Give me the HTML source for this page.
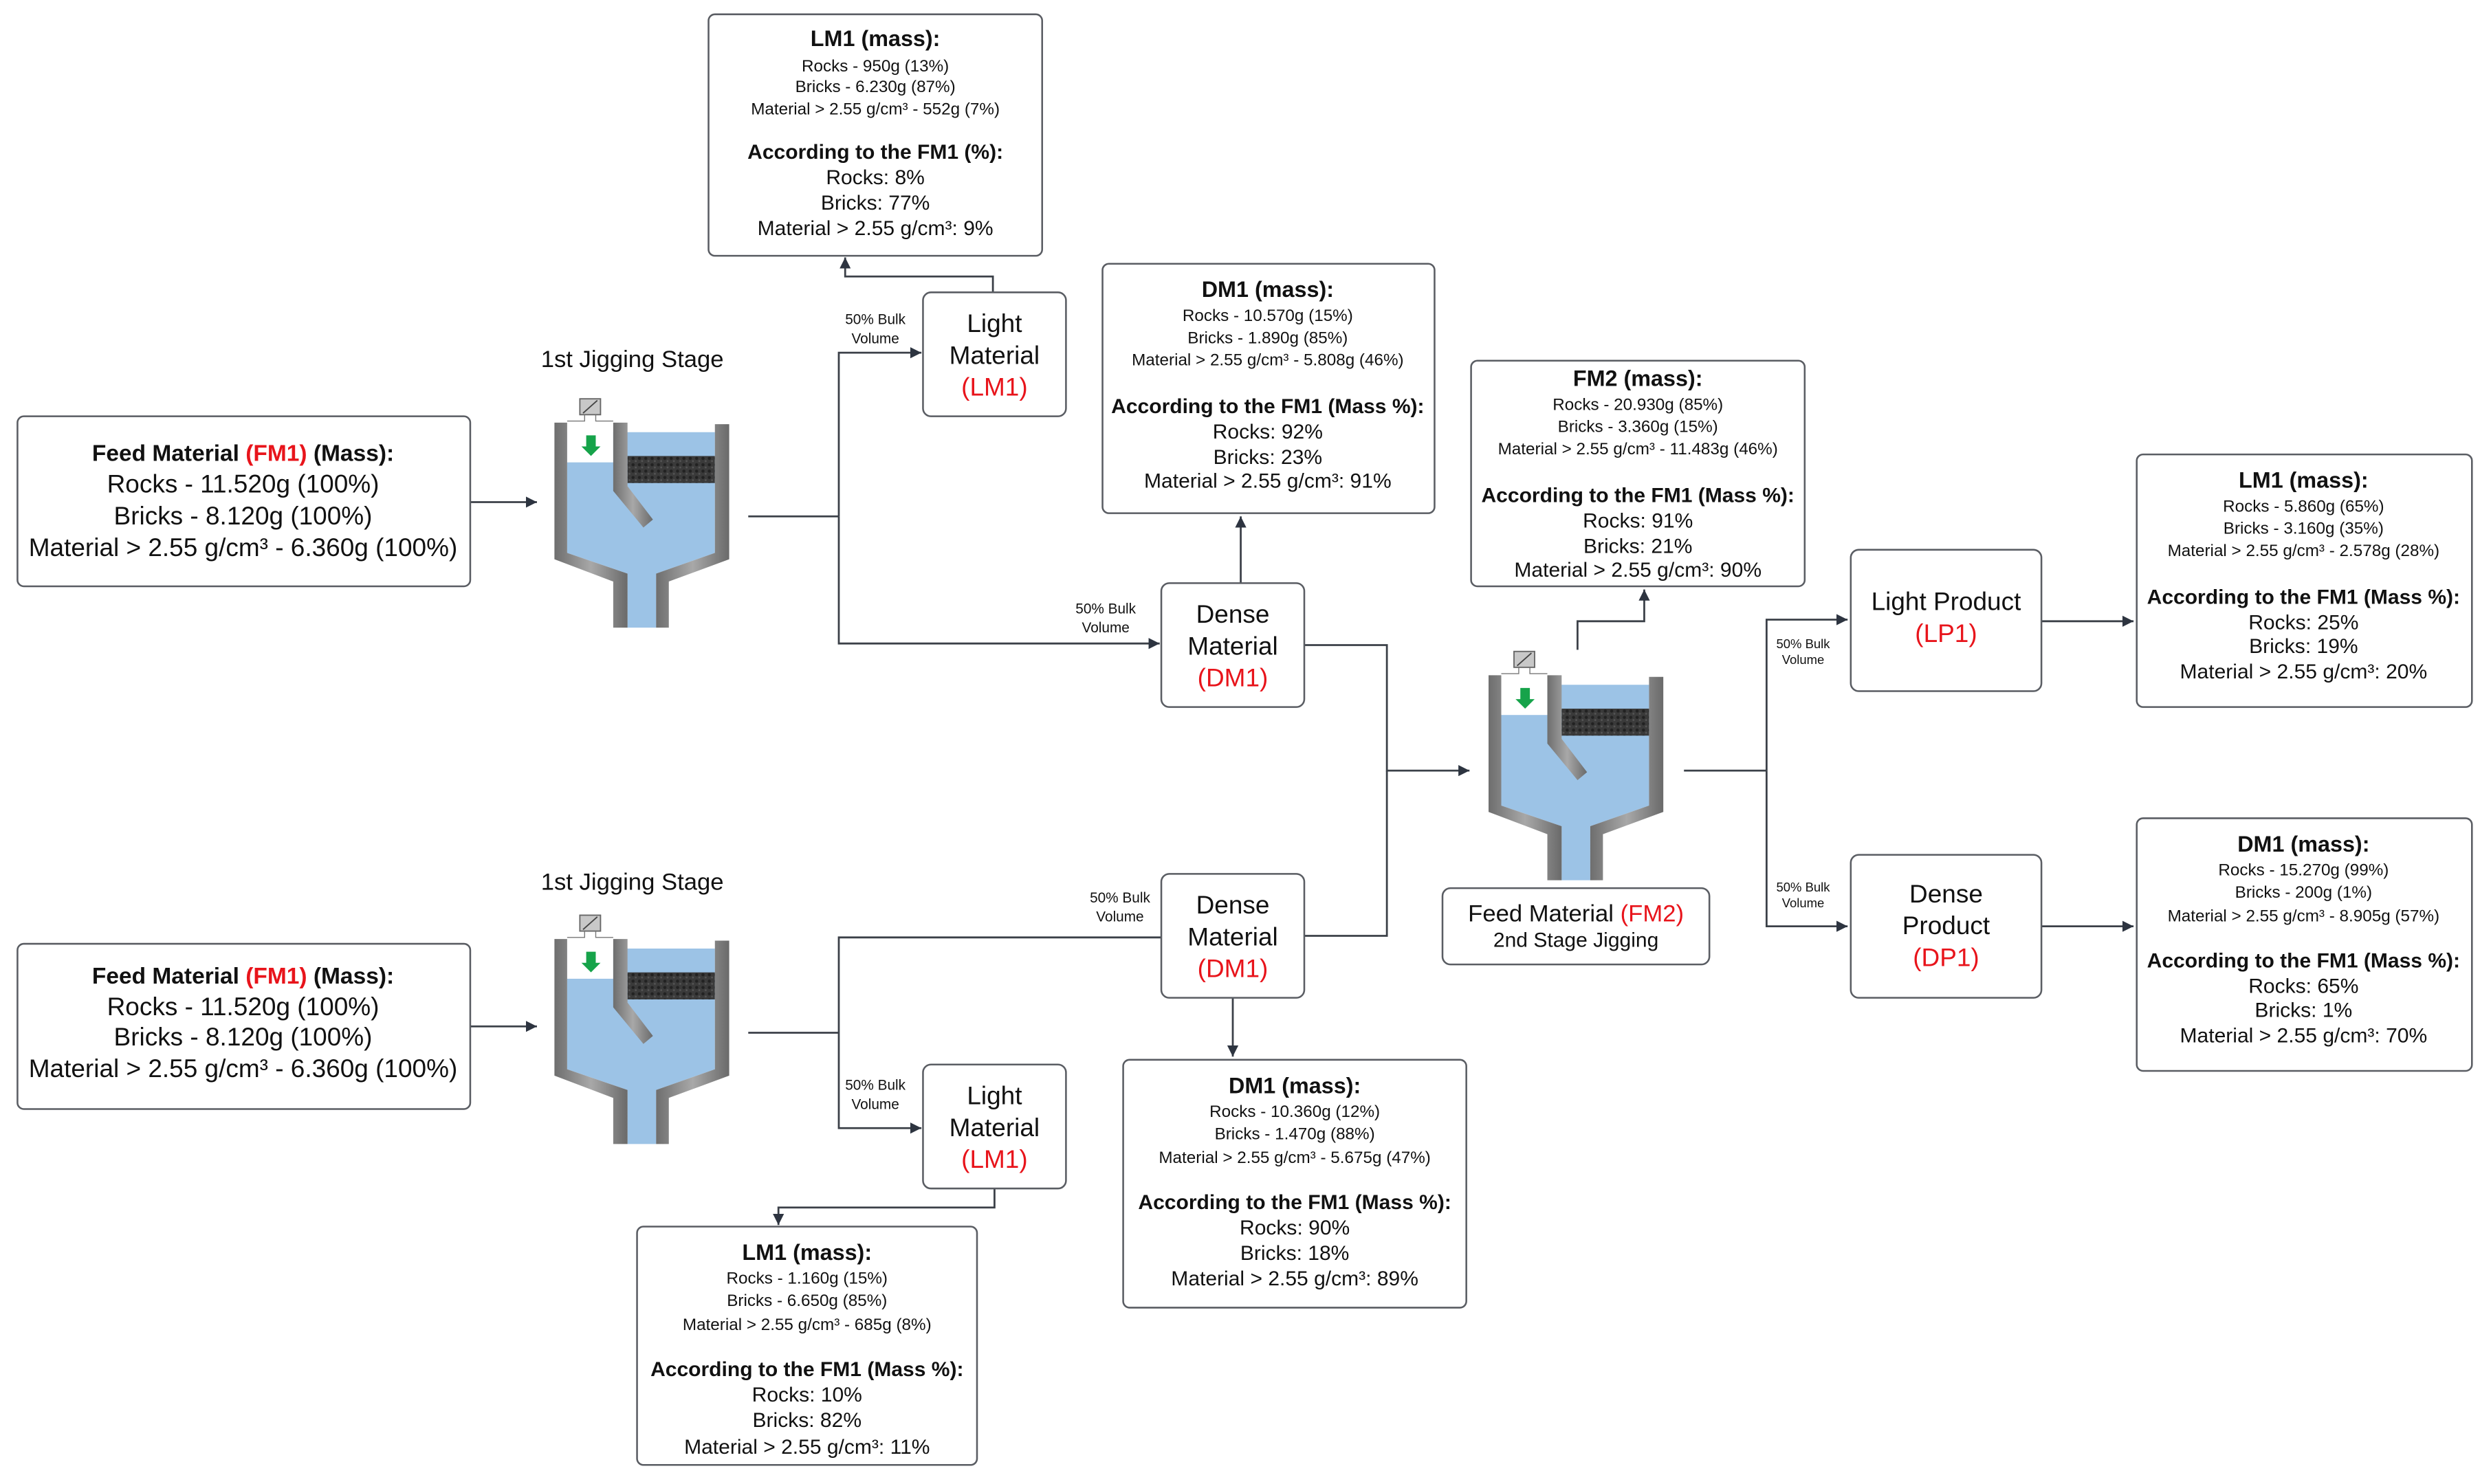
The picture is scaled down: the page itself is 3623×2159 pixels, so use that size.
<!DOCTYPE html>
<html><head><meta charset="utf-8">
<style>
html,body{margin:0;padding:0;background:#fff;}
svg{display:block;}
text{font-family:"Liberation Sans",Arial,sans-serif;fill:#111;}
.b{font-weight:bold;}
.r{fill:#e8141b;}
.box{fill:#fff;stroke:#5a5d63;stroke-width:1.1;}
.ln{fill:none;stroke:#3b4048;stroke-width:1.2;}
</style></head>
<body>
<svg width="3623" height="2159" viewBox="0 0 1568 934" preserveAspectRatio="none" xmlns="http://www.w3.org/2000/svg">
<defs>
<marker id="ar" viewBox="0 0 10 10" refX="10" refY="5" markerWidth="7" markerHeight="7" markerUnits="userSpaceOnUse" orient="auto">
<path d="M0,0 L10,5 L0,10 z" fill="#2d3440"/>
</marker>
<linearGradient id="wall" x1="0" x2="1" y1="0" y2="0">
<stop offset="0" stop-color="#6e6e6e"/><stop offset="0.5" stop-color="#a8a8a8"/><stop offset="1" stop-color="#6a6a6a"/>
</linearGradient>
<pattern id="grav" width="4" height="4" patternUnits="userSpaceOnUse">
<rect width="4" height="4" fill="#3a3a3a"/><circle cx="1.5" cy="1.5" r="1" fill="#222"/><circle cx="3.2" cy="3.2" r="0.6" fill="#555"/>
</pattern>
<g id="jig">
<polygon points="8,21 101,21 101,97 64,110 64,144 46,144 46,110 8,97" fill="#9cc3e6"/>
<rect x="8" y="15" width="29" height="25" fill="#fff"/>
<rect x="46" y="36" width="55" height="17" fill="url(#grav)"/>
<polygon points="0,15 8,15 8,97 46,110 46,144 37,144 37,115 0,101" fill="url(#wall)"/>
<polygon points="101,16 110,16 110,101 72,115 72,144 64,144 64,110 101,97" fill="url(#wall)"/>
<polygon points="37,15 46,15 46,55 62,76 56,81 37,58" fill="url(#wall)"/>
<rect x="16" y="0" width="13" height="10" fill="#c8c8c8" stroke="#666" stroke-width="0.8"/>
<line x1="18" y1="9" x2="27" y2="1" stroke="#444" stroke-width="0.8"/>
<polyline points="19,10 19,14 8,14" fill="none" stroke="#777" stroke-width="0.6"/>
<polyline points="26,10 26,14 37,14" fill="none" stroke="#777" stroke-width="0.6"/>
<polygon points="20,23 26,23 26,30 29,30 23,36 17,30 20,30" fill="#16a34a"/>
</g>
</defs>

<!-- ===== Jigs ===== -->
<use href="#jig" x="349" y="251"/>
<use href="#jig" x="349" y="576"/>
<use href="#jig" x="937" y="410"/>
<text x="398" y="231" font-size="15" text-anchor="middle">1st Jigging Stage</text>
<text x="398" y="560" font-size="15" text-anchor="middle">1st Jigging Stage</text>

<!-- ===== Connectors ===== -->
<line class="ln" x1="296" y1="316" x2="338" y2="316" marker-end="url(#ar)"/>
<line class="ln" x1="296" y1="646" x2="338" y2="646" marker-end="url(#ar)"/>
<polyline class="ln" points="471,325 528,325"/>
<polyline class="ln" points="528,325 528,222 580,222" marker-end="url(#ar)"/>
<polyline class="ln" points="528,325 528,405 730,405" marker-end="url(#ar)"/>
<polyline class="ln" points="625,184 625,174 532,174 532,162" marker-end="url(#ar)"/>
<polyline class="ln" points="781,367 781,325" marker-end="url(#ar)"/>
<polyline class="ln" points="821,406 873,406 873,485 925,485" marker-end="url(#ar)"/>
<polyline class="ln" points="821,589 873,589 873,485"/>
<polyline class="ln" points="993,409 993,391 1035,391 1035,371" marker-end="url(#ar)"/>
<polyline class="ln" points="1060,485 1112,485"/>
<polyline class="ln" points="1112,485 1112,390 1163,390" marker-end="url(#ar)"/>
<polyline class="ln" points="1112,485 1112,583 1163,583" marker-end="url(#ar)"/>
<line class="ln" x1="1285" y1="391" x2="1343" y2="391" marker-end="url(#ar)"/>
<line class="ln" x1="1285" y1="583" x2="1343" y2="583" marker-end="url(#ar)"/>
<polyline class="ln" points="471,650 528,650"/>
<polyline class="ln" points="528,650 528,590 731,590"/>
<polyline class="ln" points="528,650 528,710 580,710" marker-end="url(#ar)"/>
<polyline class="ln" points="776,628 776,665" marker-end="url(#ar)"/>
<polyline class="ln" points="626,748 626,760 490,760 490,771" marker-end="url(#ar)"/>

<!-- 50% labels -->
<g font-size="9" text-anchor="middle">
<text x="551" y="204">50% Bulk</text><text x="551" y="216">Volume</text>
<text x="696" y="386">50% Bulk</text><text x="696" y="398">Volume</text>
<text x="705" y="568">50% Bulk</text><text x="705" y="580">Volume</text>
<text x="551" y="686">50% Bulk</text><text x="551" y="698">Volume</text>
<text x="1135" y="408" font-size="8">50% Bulk</text><text x="1135" y="418" font-size="8">Volume</text>
<text x="1135" y="561" font-size="8">50% Bulk</text><text x="1135" y="571" font-size="8">Volume</text>
</g>

<!-- ===== FM1 boxes ===== -->
<rect class="box" x="11" y="262" width="285" height="107" rx="4"/>
<g text-anchor="middle">
<text x="153" y="290" font-size="14.5" class="b">Feed Material <tspan class="r">(FM1)</tspan> (Mass):</text>
<text x="153" y="310" font-size="16">Rocks - 11.520g (100%)</text>
<text x="153" y="330" font-size="16">Bricks - 8.120g (100%)</text>
<text x="153" y="350" font-size="16">Material &gt; 2.55 g/cm³ - 6.360g (100%)</text>
</g>
<rect class="box" x="11" y="594" width="285" height="104" rx="4"/>
<g text-anchor="middle">
<text x="153" y="619" font-size="14.5" class="b">Feed Material <tspan class="r">(FM1)</tspan> (Mass):</text>
<text x="153" y="639" font-size="16">Rocks - 11.520g (100%)</text>
<text x="153" y="658" font-size="16">Bricks - 8.120g (100%)</text>
<text x="153" y="678" font-size="16">Material &gt; 2.55 g/cm³ - 6.360g (100%)</text>
</g>

<!-- ===== Small process nodes ===== -->
<g text-anchor="middle" font-size="16">
<rect class="box" x="581" y="184" width="90" height="78" rx="5"/>
<text x="626" y="209">Light</text><text x="626" y="229">Material</text><text x="626" y="249" class="r">(LM1)</text>
<rect class="box" x="731" y="367" width="90" height="78" rx="5"/>
<text x="776" y="392">Dense</text><text x="776" y="412">Material</text><text x="776" y="432" class="r">(DM1)</text>
<rect class="box" x="731" y="550" width="90" height="78" rx="5"/>
<text x="776" y="575">Dense</text><text x="776" y="595">Material</text><text x="776" y="615" class="r">(DM1)</text>
<rect class="box" x="581" y="670" width="90" height="78" rx="5"/>
<text x="626" y="695">Light</text><text x="626" y="715">Material</text><text x="626" y="735" class="r">(LM1)</text>
<rect class="box" x="1165" y="346" width="120" height="89" rx="5"/>
<text x="1225" y="384">Light Product</text><text x="1225" y="404" class="r">(LP1)</text>
<rect class="box" x="1165" y="538" width="120" height="90" rx="5"/>
<text x="1225" y="568">Dense</text><text x="1225" y="588">Product</text><text x="1225" y="608" class="r">(DP1)</text>
<rect class="box" x="908" y="559" width="168" height="48" rx="5"/>
<text x="992" y="580" font-size="15">Feed Material <tspan class="r">(FM2)</tspan></text>
<text x="992" y="596" font-size="13">2nd Stage Jigging</text>
</g>

<!-- ===== Data boxes ===== -->
<g text-anchor="middle">
<!-- LM1 top -->
<rect class="box" x="446" y="9" width="210" height="152" rx="4"/>
<text x="551" y="29" font-size="14" class="b">LM1 (mass):</text>
<text x="551" y="45" font-size="10.5">Rocks - 950g (13%)</text>
<text x="551" y="58" font-size="10.5">Bricks - 6.230g (87%)</text>
<text x="551" y="72" font-size="10.5">Material &gt; 2.55 g/cm³ - 552g (7%)</text>
<text x="551" y="100" font-size="13" class="b">According to the FM1 (%):</text>
<text x="551" y="116" font-size="13">Rocks: 8%</text>
<text x="551" y="132" font-size="13">Bricks: 77%</text>
<text x="551" y="148" font-size="13">Material &gt; 2.55 g/cm³: 9%</text>

<!-- DM1 top -->
<rect class="box" x="694" y="166" width="209" height="157" rx="4"/>
<text x="798" y="187" font-size="14" class="b">DM1 (mass):</text>
<text x="798" y="202" font-size="10.5">Rocks - 10.570g (15%)</text>
<text x="798" y="216" font-size="10.5">Bricks - 1.890g (85%)</text>
<text x="798" y="230" font-size="10.5">Material &gt; 2.55 g/cm³ - 5.808g (46%)</text>
<text x="798" y="260" font-size="13" class="b">According to the FM1 (Mass %):</text>
<text x="798" y="276" font-size="13">Rocks: 92%</text>
<text x="798" y="292" font-size="13">Bricks: 23%</text>
<text x="798" y="307" font-size="13">Material &gt; 2.55 g/cm³: 91%</text>

<!-- FM2 -->
<rect class="box" x="926" y="227" width="210" height="142" rx="4"/>
<text x="1031" y="243" font-size="14" class="b">FM2 (mass):</text>
<text x="1031" y="258" font-size="10.5">Rocks - 20.930g (85%)</text>
<text x="1031" y="272" font-size="10.5">Bricks - 3.360g (15%)</text>
<text x="1031" y="286" font-size="10.5">Material &gt; 2.55 g/cm³ - 11.483g (46%)</text>
<text x="1031" y="316" font-size="13" class="b">According to the FM1 (Mass %):</text>
<text x="1031" y="332" font-size="13">Rocks: 91%</text>
<text x="1031" y="348" font-size="13">Bricks: 21%</text>
<text x="1031" y="363" font-size="13">Material &gt; 2.55 g/cm³: 90%</text>

<!-- LM1 right -->
<rect class="box" x="1345" y="286" width="211" height="159" rx="4"/>
<text x="1450" y="307" font-size="14" class="b">LM1 (mass):</text>
<text x="1450" y="322" font-size="10.5">Rocks - 5.860g (65%)</text>
<text x="1450" y="336" font-size="10.5">Bricks - 3.160g (35%)</text>
<text x="1450" y="350" font-size="10.5">Material &gt; 2.55 g/cm³ - 2.578g (28%)</text>
<text x="1450" y="380" font-size="13" class="b">According to the FM1 (Mass %):</text>
<text x="1450" y="396" font-size="13">Rocks: 25%</text>
<text x="1450" y="411" font-size="13">Bricks: 19%</text>
<text x="1450" y="427" font-size="13">Material &gt; 2.55 g/cm³: 20%</text>

<!-- DM1 right -->
<rect class="box" x="1345" y="515" width="211" height="159" rx="4"/>
<text x="1450" y="536" font-size="14" class="b">DM1 (mass):</text>
<text x="1450" y="551" font-size="10.5">Rocks - 15.270g (99%)</text>
<text x="1450" y="565" font-size="10.5">Bricks - 200g (1%)</text>
<text x="1450" y="580" font-size="10.5">Material &gt; 2.55 g/cm³ - 8.905g (57%)</text>
<text x="1450" y="609" font-size="13" class="b">According to the FM1 (Mass %):</text>
<text x="1450" y="625" font-size="13">Rocks: 65%</text>
<text x="1450" y="640" font-size="13">Bricks: 1%</text>
<text x="1450" y="656" font-size="13">Material &gt; 2.55 g/cm³: 70%</text>

<!-- DM1 bottom -->
<rect class="box" x="707" y="667" width="216" height="156" rx="4"/>
<text x="815" y="688" font-size="14" class="b">DM1 (mass):</text>
<text x="815" y="703" font-size="10.5">Rocks - 10.360g (12%)</text>
<text x="815" y="717" font-size="10.5">Bricks - 1.470g (88%)</text>
<text x="815" y="732" font-size="10.5">Material &gt; 2.55 g/cm³ - 5.675g (47%)</text>
<text x="815" y="761" font-size="13" class="b">According to the FM1  (Mass %):</text>
<text x="815" y="777" font-size="13">Rocks: 90%</text>
<text x="815" y="793" font-size="13">Bricks: 18%</text>
<text x="815" y="809" font-size="13">Material &gt; 2.55 g/cm³: 89%</text>

<!-- LM1 bottom -->
<rect class="box" x="401" y="772" width="214" height="150" rx="4"/>
<text x="508" y="793" font-size="14" class="b">LM1 (mass):</text>
<text x="508" y="808" font-size="10.5">Rocks - 1.160g (15%)</text>
<text x="508" y="822" font-size="10.5">Bricks - 6.650g (85%)</text>
<text x="508" y="837" font-size="10.5">Material &gt; 2.55 g/cm³ - 685g (8%)</text>
<text x="508" y="866" font-size="13" class="b">According to the FM1  (Mass %):</text>
<text x="508" y="882" font-size="13">Rocks: 10%</text>
<text x="508" y="898" font-size="13">Bricks: 82%</text>
<text x="508" y="915" font-size="13">Material &gt; 2.55 g/cm³: 11%</text>
</g>
</svg>
</body></html>
